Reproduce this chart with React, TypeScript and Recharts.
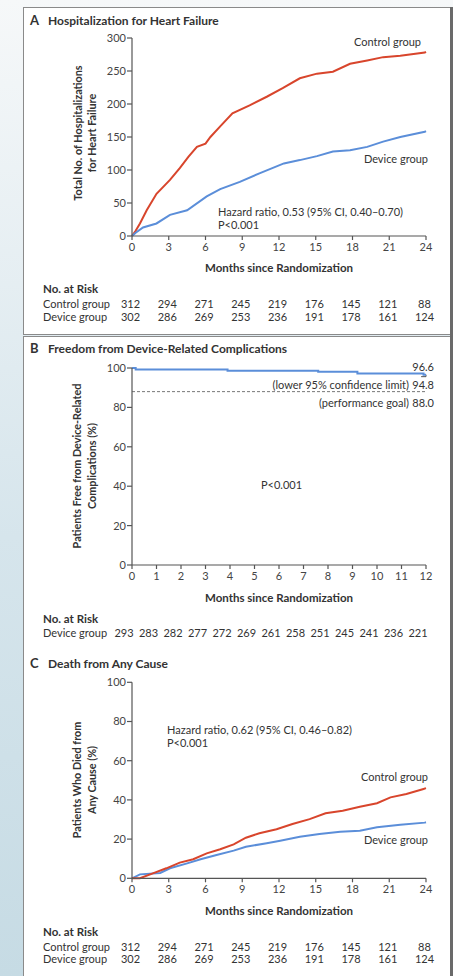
import React from "react";
import { LineChart, Line, XAxis, YAxis, ReferenceLine } from "recharts";

// ---- data ----
const monthTicks24 = [0, 3, 6, 9, 12, 15, 18, 21, 24];
const monthTicks12 = [0, 1, 2, 3, 4, 5, 6, 7, 8, 9, 10, 11, 12];
const hospTicks = [0, 50, 100, 150, 200, 250, 300];
const pctTicks = [0, 20, 40, 60, 80, 100];

// A: hospitalizations for heart failure (cumulative count)
const aControlMonths = [0, 0.3, 0.65, 1.2, 2.0, 3.1, 3.9, 4.6, 5.3, 6.0, 6.4, 7.2, 8.2, 9.6, 11.0, 12.3, 13.7, 15.1, 16.4, 17.8, 19.2, 20.5, 21.9, 23.9, 24];
const aControlCount = [0, 8, 19, 39, 64, 85, 103, 120, 135, 140, 150, 166, 186, 198, 211, 224, 239, 246, 249, 261, 266, 271, 273, 278, 279];
const aDeviceMonths = [0, 0.3, 0.9, 2.0, 3.1, 4.5, 6.1, 7.2, 8.8, 10.4, 12.4, 13.7, 15.1, 16.4, 17.8, 19.2, 20.5, 21.9, 23.9, 24];
const aDeviceCount = [0, 5, 13, 19, 32, 39, 60, 71, 82, 95, 110, 115, 121, 128, 130, 135, 143, 150, 158, 159];

// B: freedom from device-related complications (%)
const bMonths = [0, 0.15, 3.9, 7.6, 9.2, 11.9, 12];
const bFree = [100, 99.2, 98.6, 98.1, 97.2, 96.6, 96.6];

// C: death from any cause (%)
const cControlMonths = [0, 0.65, 1.7, 2.8, 3.9, 5.0, 6.1, 7.2, 8.3, 9.3, 10.4, 11.8, 13.1, 14.5, 15.8, 17.2, 18.6, 20.0, 21.1, 22.4, 23.8, 24];
const cControlPct = [0, 0, 2.5, 5.1, 8, 9.7, 12.7, 14.8, 17.3, 20.7, 23, 25, 27.7, 30.2, 33.2, 34.5, 36.5, 38.3, 41.3, 43, 45.6, 46];
const cDeviceMonths = [0, 0.65, 2.3, 3.1, 4.5, 5.6, 6.9, 8.3, 9.3, 11.0, 12.1, 13.7, 15.3, 17.0, 18.6, 20.0, 21.9, 23.9, 24];
const cDevicePct = [0, 2, 2.7, 5.1, 7.6, 9.7, 11.9, 14.1, 16.1, 17.9, 19.2, 21.2, 22.6, 23.8, 24.3, 26, 27.3, 28.4, 28.6];

// numbers at risk
const riskControl24 = [312, 294, 271, 245, 219, 176, 145, 121, 88];
const riskDevice24 = [302, 286, 269, 253, 236, 191, 178, 161, 124];
const riskDevice12 = [293, 283, 282, 277, 272, 269, 261, 258, 251, 245, 241, 236, 221];

const RED = "#d8452c";
const BLUE = "#5b8ed9";
const AXIS = "#555";
const INK = "#333";
const FONT = 'Lato, "Open Sans", sans-serif';

const PLOT_L = 132;
const PLOT_R = 426;

const pts = (ms: number[], vs: number[]) => ms.map((m, i) => ({ m, v: vs[i] }));

function T(props: { x: number; y: number; size?: number; bold?: boolean; anchor?: "start" | "middle" | "end"; children: React.ReactNode; color?: string }) {
  const size = props.size ?? 11;
  const anchor = props.anchor ?? "start";
  const style: React.CSSProperties = {
    position: "absolute",
    top: props.y - size * 0.6,
    fontSize: size,
    lineHeight: `${size * 1.2}px`,
    fontWeight: props.bold ? 700 : 400,
    color: props.color ?? INK,
    whiteSpace: "nowrap",
  };
  if (anchor === "start") style.left = props.x;
  if (anchor === "end") style.right = 453 - props.x;
  if (anchor === "middle") {
    style.left = props.x;
    style.transform = "translateX(-50%)";
  }
  return <div style={style}>{props.children}</div>;
}

function VLabel(props: { cx: number; cy: number; children: React.ReactNode }) {
  const w = 200;
  const h = 14;
  return (
    <div
      style={{
        position: "absolute",
        left: props.cx - w / 2,
        top: props.cy - h / 2,
        width: w,
        height: h,
        lineHeight: `${h}px`,
        textAlign: "center",
        fontSize: 10.8,
        fontWeight: 700,
        color: INK,
        transform: "rotate(-90deg)",
        whiteSpace: "nowrap",
      }}
    >
      {props.children}
    </div>
  );
}

const tickStyle = { fill: "#444", fontSize: 11, fontFamily: FONT };

function xPos(v: number, max: number) {
  return PLOT_L + ((PLOT_R - PLOT_L) * v) / max;
}

export default function App() {
  return (
    <div
      style={{
        position: "absolute",
        left: 0,
        top: 0,
        width: 453,
        height: 976,
        overflow: "hidden",
        fontFamily: FONT,
        background: "linear-gradient(#f6f8f9 0%, #d6e5ec 55%, #c6dbe4 100%)",
      }}
    >
      {/* panel frames */}
      <div style={{ position: "absolute", left: 23, top: 7, width: 427, height: 326, background: "#fff", borderLeft: "1px solid #8a8a8a", borderTop: "1px solid #8a8a8a", borderBottom: "1px solid #8a8a8a" }} />
      <div style={{ position: "absolute", left: 23, top: 336, width: 427, height: 314, background: "#fff", borderLeft: "1px solid #8a8a8a", borderTop: "1px solid #8a8a8a", borderBottom: "1px solid #8a8a8a" }} />
      <div style={{ position: "absolute", left: 23, top: 651, width: 427, height: 330, background: "#fff", borderLeft: "1px solid #8a8a8a" }} />
      <div style={{ position: "absolute", left: 450, top: 7, width: 3, height: 969, background: "#6a6a6a" }} />

      {/* ---------- A ---------- */}
      <T x={30} y={21} size={13} bold>A</T>
      <T x={48} y={21} size={12} bold>Hospitalization for Heart Failure</T>
      <VLabel cx={78} cy={133}>Total No. of Hospitalizations</VLabel>
      <VLabel cx={92} cy={133}>for Heart Failure</VLabel>
      <div style={{ position: "absolute", left: 0, top: 0 }}>
        <LineChart width={453} height={260} margin={{ top: 38, right: 27, left: 92, bottom: 0 }}>
          <XAxis dataKey="m" type="number" domain={[0, 24]} ticks={monthTicks24} height={24} tickSize={4} tickMargin={3} interval={0} stroke={AXIS} strokeWidth={1.2} tick={tickStyle} />
          <YAxis type="number" domain={[0, 300]} ticks={hospTicks} width={40} tickSize={5} tickMargin={1} interval={0} stroke={AXIS} strokeWidth={1.2} tick={tickStyle} />
          <Line data={pts(aControlMonths, aControlCount)} dataKey="v" type="linear" stroke={RED} strokeWidth={2} dot={false} isAnimationActive={false} />
          <Line data={pts(aDeviceMonths, aDeviceCount)} dataKey="v" type="linear" stroke={BLUE} strokeWidth={2} dot={false} isAnimationActive={false} />
        </LineChart>
      </div>
      <T x={421} y={42} anchor="end">Control group</T>
      <T x={428} y={159} anchor="end">Device group</T>
      <T x={218} y={212}>Hazard ratio, 0.53 (95% CI, 0.40–0.70)</T>
      <T x={218} y={225}>P&lt;0.001</T>
      <T x={279} y={268} anchor="middle" size={11.5} bold>Months since Randomization</T>
      <T x={43} y={289} size={11.5} bold>No. at Risk</T>
      <T x={43} y={304}>Control group</T>
      <T x={43} y={317}>Device group</T>
      {riskControl24.map((n, i) => (
        <T key={"ac" + i} x={xPos(monthTicks24[i], 24) - 1.5} y={304} anchor="middle">{n}</T>
      ))}
      {riskDevice24.map((n, i) => (
        <T key={"ad" + i} x={xPos(monthTicks24[i], 24) - 1.5} y={317} anchor="middle">{n}</T>
      ))}

      {/* ---------- B ---------- */}
      <T x={30} y={349} size={13} bold>B</T>
      <T x={48} y={349} size={12} bold>Freedom from Device-Related Complications</T>
      <VLabel cx={77} cy={466}>Patients Free from Device-Related</VLabel>
      <VLabel cx={92} cy={466}>Complications (%)</VLabel>
      <div style={{ position: "absolute", left: 0, top: 340 }}>
        <LineChart width={453} height={249} margin={{ top: 28, right: 27, left: 92, bottom: 0 }}>
          <XAxis dataKey="m" type="number" domain={[0, 12]} ticks={monthTicks12} height={24} tickSize={4} tickMargin={3} interval={0} stroke={AXIS} strokeWidth={1.2} tick={tickStyle} />
          <YAxis type="number" domain={[0, 100]} ticks={pctTicks} width={40} tickSize={5} tickMargin={1} interval={0} stroke={AXIS} strokeWidth={1.2} tick={tickStyle} />
          <ReferenceLine y={88} stroke="#777" strokeDasharray="3 2" strokeWidth={1} />
          <ReferenceLine segment={[{ x: 12, y: 96.6 }, { x: 12, y: 95.6 }]} stroke={AXIS} strokeWidth={1} />
          <ReferenceLine segment={[{ x: 11.8, y: 95.6 }, { x: 12, y: 95.6 }]} stroke={AXIS} strokeWidth={1} />
          <Line data={pts(bMonths, bFree)} dataKey="v" type="stepAfter" stroke={BLUE} strokeWidth={2} dot={false} isAnimationActive={false} />
        </LineChart>
      </div>
      <T x={434} y={367} anchor="end">96.6</T>
      <T x={409} y={385} anchor="end">(lower 95% confidence limit)</T>
      <T x={434} y={385} anchor="end">94.8</T>
      <T x={409} y={403} anchor="end">(performance goal)</T>
      <T x={434} y={403} anchor="end">88.0</T>
      <T x={261} y={485}>P&lt;0.001</T>
      <T x={279} y={598} anchor="middle" size={11.5} bold>Months since Randomization</T>
      <T x={43} y={619} size={11.5} bold>No. at Risk</T>
      <T x={43} y={633}>Device group</T>
      {riskDevice12.map((n, i) => (
        <T key={"bd" + i} x={xPos(monthTicks12[i], 12) - 8} y={633} anchor="middle">{n}</T>
      ))}

      {/* ---------- C ---------- */}
      <T x={30} y={664} size={13} bold>C</T>
      <T x={48} y={664} size={12} bold>Death from Any Cause</T>
      <VLabel cx={77} cy={780}>Patients Who Died from</VLabel>
      <VLabel cx={92} cy={780}>Any Cause (%)</VLabel>
      <div style={{ position: "absolute", left: 0, top: 655 }}>
        <LineChart width={453} height={247.3} margin={{ top: 27.3, right: 27, left: 92, bottom: 0 }}>
          <XAxis dataKey="m" type="number" domain={[0, 24]} ticks={monthTicks24} height={24} tickSize={4} tickMargin={3} interval={0} stroke={AXIS} strokeWidth={1.2} tick={tickStyle} />
          <YAxis type="number" domain={[0, 100]} ticks={pctTicks} width={40} tickSize={5} tickMargin={1} interval={0} stroke={AXIS} strokeWidth={1.2} tick={tickStyle} />
          <Line data={pts(cDeviceMonths, cDevicePct)} dataKey="v" type="linear" stroke={BLUE} strokeWidth={2} dot={false} isAnimationActive={false} />
          <Line data={pts(cControlMonths, cControlPct)} dataKey="v" type="linear" stroke={RED} strokeWidth={2} dot={false} isAnimationActive={false} />
        </LineChart>
      </div>
      <T x={167} y={730}>Hazard ratio, 0.62 (95% CI, 0.46–0.82)</T>
      <T x={167} y={743}>P&lt;0.001</T>
      <T x={428} y={777} anchor="end">Control group</T>
      <T x={428} y={840} anchor="end">Device group</T>
      <T x={279} y={911} anchor="middle" size={11.5} bold>Months since Randomization</T>
      <T x={43} y={932} size={11.5} bold>No. at Risk</T>
      <T x={43} y={947}>Control group</T>
      <T x={43} y={959}>Device group</T>
      {riskControl24.map((n, i) => (
        <T key={"cc" + i} x={xPos(monthTicks24[i], 24) - 1.5} y={947} anchor="middle">{n}</T>
      ))}
      {riskDevice24.map((n, i) => (
        <T key={"cd" + i} x={xPos(monthTicks24[i], 24) - 1.5} y={959} anchor="middle">{n}</T>
      ))}
    </div>
  );
}
